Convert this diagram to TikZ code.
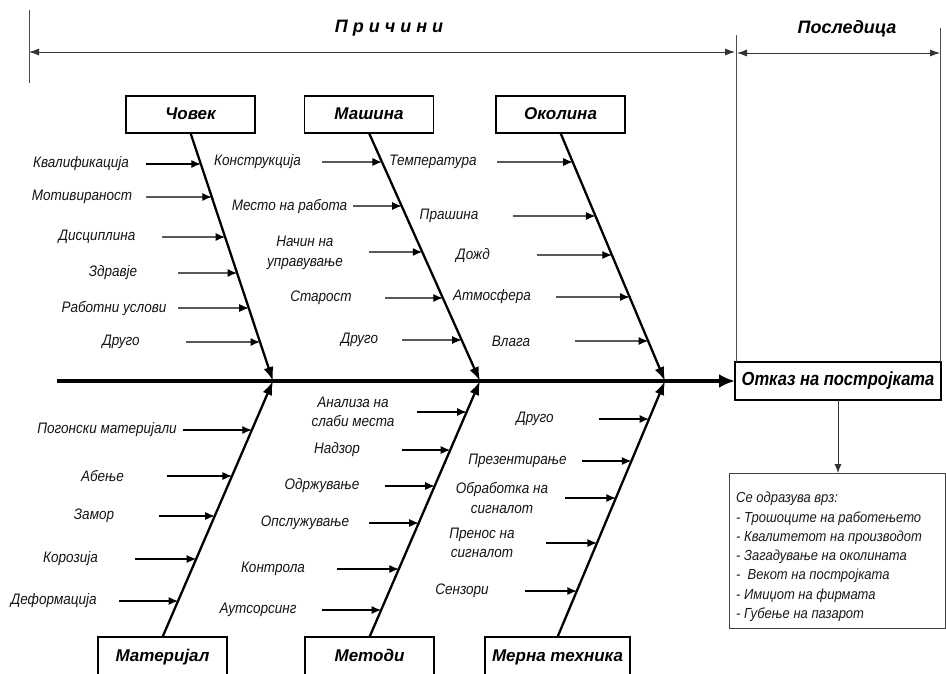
\documentclass[tikz,border=0pt]{standalone}
\usepackage{fontspec}
\setmainfont{Liberation Sans}
\newfontfamily\tallsans[FakeStretch=0.89]{Liberation Sans}
\newfontfamily\tallersans[FakeStretch=0.87]{Liberation Sans}
\usetikzlibrary{arrows.meta,calc}

\tikzset{
  lbl/.style={font=\tallsans\fontsize{15.2}{19.5}\selectfont\itshape, text=black!92, align=center, inner sep=0pt},
  cat/.style={draw, line width=1.8pt, outer sep=0pt, inner sep=0pt, minimum width=129pt,
              text height=12.5pt, text depth=3.5pt,
              font=\fontsize{17}{19}\selectfont\bfseries\itshape},
  title/.style={font=\fontsize{18}{20}\selectfont\bfseries\itshape, inner sep=0pt},
  bone/.style={line width=2.3pt, -{Latex[length=14pt,width=10pt]}},
  twig/.style={line width=1.1pt, -{Latex[length=9.5pt,width=8pt]}},
  spine/.style={line width=4.2pt, -{Latex[length=16pt,width=14pt]}},
  dim/.style={line width=0.8pt, draw=black!80, {Latex[length=10pt,width=7pt]}-{Latex[length=10pt,width=7pt]}},
  frame/.style={line width=0.8pt, draw=black!70},
}

\begin{document}
\begin{tikzpicture}[x=1pt,y=-1pt]
\useasboundingbox (0,0) rectangle (946,673);
\clip (0,0) rectangle (946,673);

% ---- header: causes / effect dimension lines
\coordinate (vl1) at (29,10);
\coordinate (vl2) at (29,83);
\draw[frame] (vl1) -- (vl2);
\coordinate (pa) at (29,52);
\coordinate (pb) at (735,52);
\draw[dim] (pa) -- (pb);
\node[title] (causes) at (389,28) {П р и ч и н и};

\coordinate (qa) at (737,53);
\coordinate (qb) at (940,53);
\draw[dim] (qa) -- (qb);
\node[title] (effect) at (847,29) {Последица};

% ---- effect box and its frame
\node[draw, line width=2.6pt, outer sep=0pt, inner sep=0pt, minimum width=206pt, minimum height=38pt,
      font=\tallersans\fontsize{19}{21}\selectfont\bfseries\itshape] (otkaz) at (838,381) {Отказ на постројката};
\coordinate (fl) at (736,35);
\coordinate (fr) at (940,28);
\draw[frame] (fl) -- (fl |- otkaz.north);
\draw[frame] (fr) -- (fr |- otkaz.north);

% ---- main spine
\coordinate (tail) at (57,381);
\draw[spine] (tail) -- (otkaz.west);

% ---- junctions on the spine
\coordinate (j1) at (273,381);
\coordinate (j2) at (480,381);
\coordinate (j3) at (665,381);

% ---- category boxes
\node[cat, minimum height=37pt] (chovek) at (190.5,114.5) {Човек};
\node[cat, minimum height=37pt] (mashina) at (369,114.5) {Машина};
\node[cat, minimum height=37pt] (okolina) at (560.5,114.5) {Околина};
\node[cat, minimum height=40pt] (materijal) at (162.5,657) {Материјал};
\node[cat, minimum height=40pt] (metodi) at (369.5,657) {Методи};
\node[cat, minimum height=40pt, minimum width=145pt] (merna) at (557.5,657) {Мерна техника};

% ---- bones
\draw[bone] (chovek.south) -- (j1);
\draw[bone] (mashina.south) -- (j2);
\draw[bone] (okolina.south) -- (j3);
\draw[bone] (materijal.north) -- (j1);
\draw[bone] (metodi.north) -- (j2);
\draw[bone] (merna.north) -- (j3);

% ---- causes on the upper bones (label / x / y / arrow start x / arrow y)
\foreach \txt/\lx/\ly/\sx/\ay [count=\i] in {
  Квалификација/81/164/146/164,
  Мотивираност/82/197/146/197,
  Дисциплина/97/237/162/237,
  Здравје/113/273/178/273,
  Работни услови/114/308/178/308,
  Друго/121/342/186/342}{
  \node[lbl] (a\i) at (\lx,\ly) {\txt};
  \coordinate (as\i) at (\sx,\ay);
  \coordinate (ae\i) at ($(chovek.south)!{(\ay-133)/248}!(j1)$);
  \draw[twig] (as\i) -- (ae\i);
}
\foreach \txt/\lx/\ly/\sx/\ay [count=\i] in {
  Конструкција/257.5/162/322/162,
  Место на работа/289.5/206/353/206,
  {Начин на\\управување}/305/253/369/252,
  Старост/321/298/385/298,
  Друго/359.5/340/402/340}{
  \node[lbl] (b\i) at (\lx,\ly) {\txt};
  \coordinate (bs\i) at (\sx,\ay);
  \coordinate (be\i) at ($(mashina.south)!{(\ay-133)/248}!(j2)$);
  \draw[twig] (bs\i) -- (be\i);
}
\foreach \txt/\lx/\ly/\sx/\ay [count=\i] in {
  Температура/433/162/497/162,
  Прашина/449/216/513/216,
  Дожд/473/255/537/255,
  Атмосфера/492/297/556/297,
  Влага/511/341/575/341}{
  \node[lbl] (c\i) at (\lx,\ly) {\txt};
  \coordinate (cs\i) at (\sx,\ay);
  \coordinate (ce\i) at ($(okolina.south)!{(\ay-133)/248}!(j3)$);
  \draw[twig] (cs\i) -- (ce\i);
}

% ---- causes on the lower bones
\foreach \txt/\lx/\ly/\sx/\ay [count=\i] in {
  Погонски материјали/107/430/183/430,
  Абење/102.5/476/167/476,
  Замор/94/516/159/516,
  Корозија/70.5/559/135/559,
  Деформација/53.7/601/119/601}{
  \node[lbl] (d\i) at (\lx,\ly) {\txt};
  \coordinate (ds\i) at (\sx,\ay);
  \coordinate (de\i) at ($(materijal.north)!{(637-\ay)/256}!(j1)$);
  \draw[twig] (ds\i) -- (de\i);
}
\foreach \txt/\lx/\ly/\sx/\ay [count=\i] in {
  {Анализа на\\слаби места}/353/412/417/412,
  Надзор/337/450/402/450,
  Одржување/322/486/385/486,
  Опслужување/305/523/369/523,
  Контрола/273/569/337/569,
  Аутсорсинг/258/610/322/610}{
  \node[lbl] (e\i) at (\lx,\ly) {\txt};
  \coordinate (es\i) at (\sx,\ay);
  \coordinate (ee\i) at ($(metodi.north)!{(637-\ay)/256}!(j2)$);
  \draw[twig] (es\i) -- (ee\i);
}
\foreach \txt/\lx/\ly/\sx/\ay [count=\i] in {
  Друго/535/419/599/419,
  Презентирање/517.5/461/582/461,
  {Обработка на\\сигналот}/502/498/565/498,
  {Пренос на\\сигналот}/482/543/546/543,
  Сензори/462/591/525/591}{
  \node[lbl] (f\i) at (\lx,\ly) {\txt};
  \coordinate (fs\i) at (\sx,\ay);
  \coordinate (fe\i) at ($(merna.north)!{(637-\ay)/256}!(j3)$);
  \draw[twig] (fs\i) -- (fe\i);
}

% ---- consequences box
\node[draw=black!75, line width=0.8pt, anchor=north west, minimum width=216pt, minimum height=155pt,
      inner sep=0pt] (effects) at (729,473) {};
\draw[line width=0.8pt, draw=black!80, -{Latex[length=9pt,width=7pt]}] (otkaz.south) -- (otkaz.south |- effects.north);
\node[anchor=north west, align=left, inner sep=0pt, text=black!90,
      font=\tallsans\fontsize{14.6}{19.3}\selectfont\itshape] (effectslist) at (736,492) {%
  Се одразува врз:\\
  - Трошоците на работењето\\
  - Квалитетот на производот\\
  - Загадување на околината\\
  - \ Векот на постројката\\
  - Имиџот на фирмата\\
  - Губење на пазарот};
\end{tikzpicture}
\end{document}
